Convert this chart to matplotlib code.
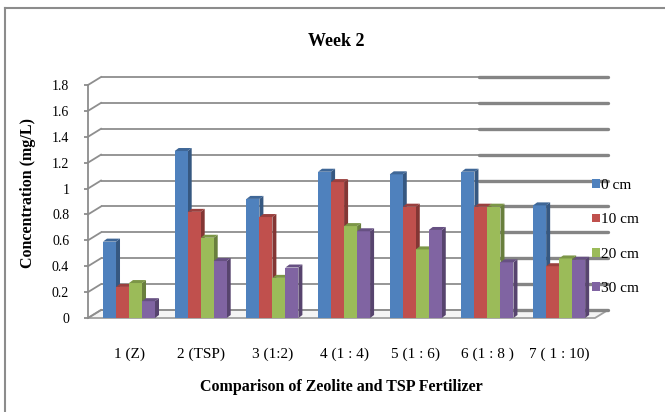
import matplotlib
matplotlib.use("Agg")
import matplotlib.pyplot as plt
from matplotlib.patches import Polygon, Patch
from matplotlib.lines import Line2D
import numpy as np

plt.rcParams['font.family'] = ['Liberation Serif', 'DejaVu Serif']

categories = ["1 (Z)", "2 (TSP)", "3 (1:2)", "4 (1 : 4)", "5 (1 : 6)", "6 (1 : 8 )", "7 ( 1 : 10)"]
series_names = ["0 cm", "10 cm", "20 cm", "30 cm"]
cm0 = [0.59, 1.29, 0.92, 1.13, 1.11, 1.13, 0.87]
cm10 = [0.24, 0.82, 0.78, 1.05, 0.86, 0.86, 0.40]
cm20 = [0.27, 0.62, 0.31, 0.71, 0.53, 0.86, 0.46]
cm30 = [0.13, 0.44, 0.39, 0.67, 0.68, 0.43, 0.45]
yticks = [0, 0.2, 0.4, 0.6, 0.8, 1.0, 1.2, 1.4, 1.6, 1.8]
ytick_labels = ["0", "0.2", "0.4", "0.6", "0.8", "1", "1.2", "1.4", "1.6", "1.8"]

series = [cm0, cm10, cm20, cm30]
colors = ["#4F81BD", "#C0504D", "#9BBB59", "#8064A2"]

W, H = 665, 412
fig = plt.figure(figsize=(W / 100, H / 100), dpi=100)
fig.patch.set_facecolor("white")

ax = fig.add_axes([88 / W, (H - 318) / H, 507 / W, (318 - 85) / H])
xmin, xmax = -0.572, 6.5
ax.set_xlim(xmin, xmax)
ax.set_ylim(0, 1.8)
ax.set_facecolor("none")
for s in ["top", "right", "bottom"]:
    ax.spines[s].set_visible(False)
ax.spines["left"].set_color("#8c8c8c")
ax.spines["left"].set_linewidth(1.3)
ax.set_yticks(yticks)
ax.set_yticklabels(ytick_labels, fontsize=10)
ax.tick_params(axis="y", length=3, color="#8c8c8c", width=1.3, pad=10.5)
ax.set_xticks(range(len(categories)))
ax.set_xticklabels(categories, fontsize=11)
ax.tick_params(axis="x", length=0, pad=21)

# pixel scale
p0 = ax.transData.transform((0, 0))
p1 = ax.transData.transform((1, 1))
sx, sy = p1[0] - p0[0], p1[1] - p0[1]
wdx, wdy = 13 / sx, 8 / sy      # wall depth
bdx, bdy = 4 / sx, 3 / sy       # bar depth

grid_c = "#8e8e8e"
# floor
floor = Polygon([(xmin, 0), (xmax, 0), (xmax + wdx, wdy), (xmin + wdx, wdy)],
                closed=True, facecolor="#f4f4f4", edgecolor="#a0a0a0", lw=1.3,
                clip_on=False, zorder=1)
ax.add_patch(floor)
# gridlines on back wall + connectors
split = 479
xsplit = xmin + (split - 88) / sx
for v in yticks:
    ax.plot([xmin + wdx, xmax + wdx], [v + wdy, v + wdy], color=grid_c, lw=1.3,
            clip_on=False, zorder=1.5, solid_capstyle="butt")
    ax.plot([xsplit, xmax + wdx], [v + wdy, v + wdy], color="#858585", lw=2.4,
            clip_on=False, zorder=1.6, solid_capstyle="round")
    ax.plot([xmin, xmin + wdx], [v, v + wdy], color=grid_c, lw=1.3,
            clip_on=False, zorder=1.5)

def darker(c, f):
    c = np.array(matplotlib.colors.to_rgb(c))
    return tuple(c * f)

bw = 13 / sx
offsets = [-1.5, -0.5, 0.5, 1.5]
for i in range(len(categories)):
    for j, vals in enumerate(series):
        v = vals[i]
        xc = i + offsets[j] * bw
        x0, x1 = xc - bw / 2, xc + bw / 2
        z = 3 + i * 0.1 + j * 0.01
        side = Polygon([(x1, 0), (x1 + bdx, bdy), (x1 + bdx, v + bdy), (x1, v)],
                       closed=True, facecolor=darker(colors[j], 0.68), edgecolor="none",
                       zorder=z, clip_on=False)
        ax.add_patch(side)
        ax.bar(xc, v, width=bw, color=colors[j], edgecolor="none", zorder=z + 0.001)
        top = Polygon([(x0, v), (x1, v), (x1 + bdx, v + bdy), (x0 + bdx, v + bdy)],
                      closed=True, facecolor=darker(colors[j], 0.8), edgecolor="none",
                      zorder=z + 0.002, clip_on=False)
        ax.add_patch(top)

# legend
handles = [Patch(facecolor=c, edgecolor="none") for c in colors]
fig.legend(handles, series_names, loc="upper left",
           bbox_to_anchor=(592 / W, 1 - 179 / H), bbox_transform=fig.transFigure,
           frameon=False, fontsize=11, handlelength=0.5, handleheight=0.5,
           handletextpad=0.1, labelspacing=1.4, borderpad=0, borderaxespad=0)

# titles
fig.text(336 / W, 1 - 42 / H, "Week 2", ha="center", va="center",
         fontsize=13, fontweight="bold")
fig.text(341 / W, 1 - 387 / H, "Comparison of Zeolite and TSP Fertilizer",
         ha="center", va="center", fontsize=11.5, fontweight="bold")
fig.text(28 / W, 1 - 193 / H, "Concentration (mg/L)", ha="center", va="center",
         rotation=90, fontsize=11.5, fontweight="bold")

# chart border (top and left visible)
fig.add_artist(Line2D([5 / W, 1], [1 - 8 / H, 1 - 8 / H], color="#8c8c8c", lw=1.5,
                      transform=fig.transFigure))
fig.add_artist(Line2D([5 / W, 5 / W], [0, 1 - 8 / H], color="#8c8c8c", lw=1.5,
                      transform=fig.transFigure))

fig.savefig("out.png", dpi=100)
